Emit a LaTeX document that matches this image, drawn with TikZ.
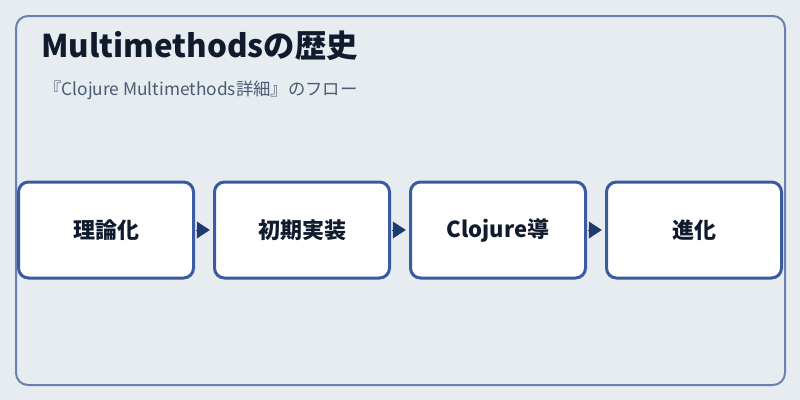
\documentclass[tikz,border=0pt]{standalone}
\usepackage{fontspec}
\setmainfont{Noto Sans CJK JP}
\usetikzlibrary{arrows.meta,positioning}
\definecolor{bgcol}{HTML}{E7ECF1}
\definecolor{framecol}{HTML}{6A80AD}
\definecolor{boxcol}{HTML}{3A5BA0}
\definecolor{tipcol}{HTML}{1E3A6E}
\definecolor{titlecol}{HTML}{111B2E}
\definecolor{subcol}{HTML}{4A5A75}
\tikzset{
  stage/.style={draw=boxcol,line width=2.25pt,fill=white,rounded corners=7.5pt,
    minimum width=131.25pt,minimum height=72pt,inner sep=0pt,outer sep=0pt,
    font=\bfseries\fontsize{16.5pt}{19pt}\selectfont,text=titlecol},
  flow/.style={-{Triangle[length=9.75pt,width=12.8pt]},draw=tipcol,fill=tipcol,
    line width=0pt,shorten <=4.5,shorten >=3.5}
}
\begin{document}
\begin{tikzpicture}[x=0.75pt,y=-0.75pt]
        \useasboundingbox[fill=bgcol](0,0) rectangle (800,400);
        \draw[framecol,line width=1.5pt,rounded corners=9pt](16,16) rectangle (785,385);
        \node[anchor=base west,text=titlecol,font=\bfseries\fontsize{23.5pt}{27pt}\selectfont,inner sep=0pt] (title) at(41,57) {Multimethodsの歴史};
        \node[anchor=base west,text=subcol,font=\fontsize{13pt}{15pt}\selectfont,inner sep=0pt] (sub) at(44,95) {『Clojure Multimethods詳細』のフロー};
        \node[stage] (s1) at(106,230) {理論化};
        \node[stage,right=21 of s1] (s2) {初期実装};
        \node[stage,right=21 of s2] (s3) {Clojure導};
        \node[stage,right=21 of s3] (s4) {進化};
        \draw[flow](s1)--(s2);
        \draw[flow](s2)--(s3);
        \draw[flow](s3)--(s4);
      \end{tikzpicture}
\end{document}
